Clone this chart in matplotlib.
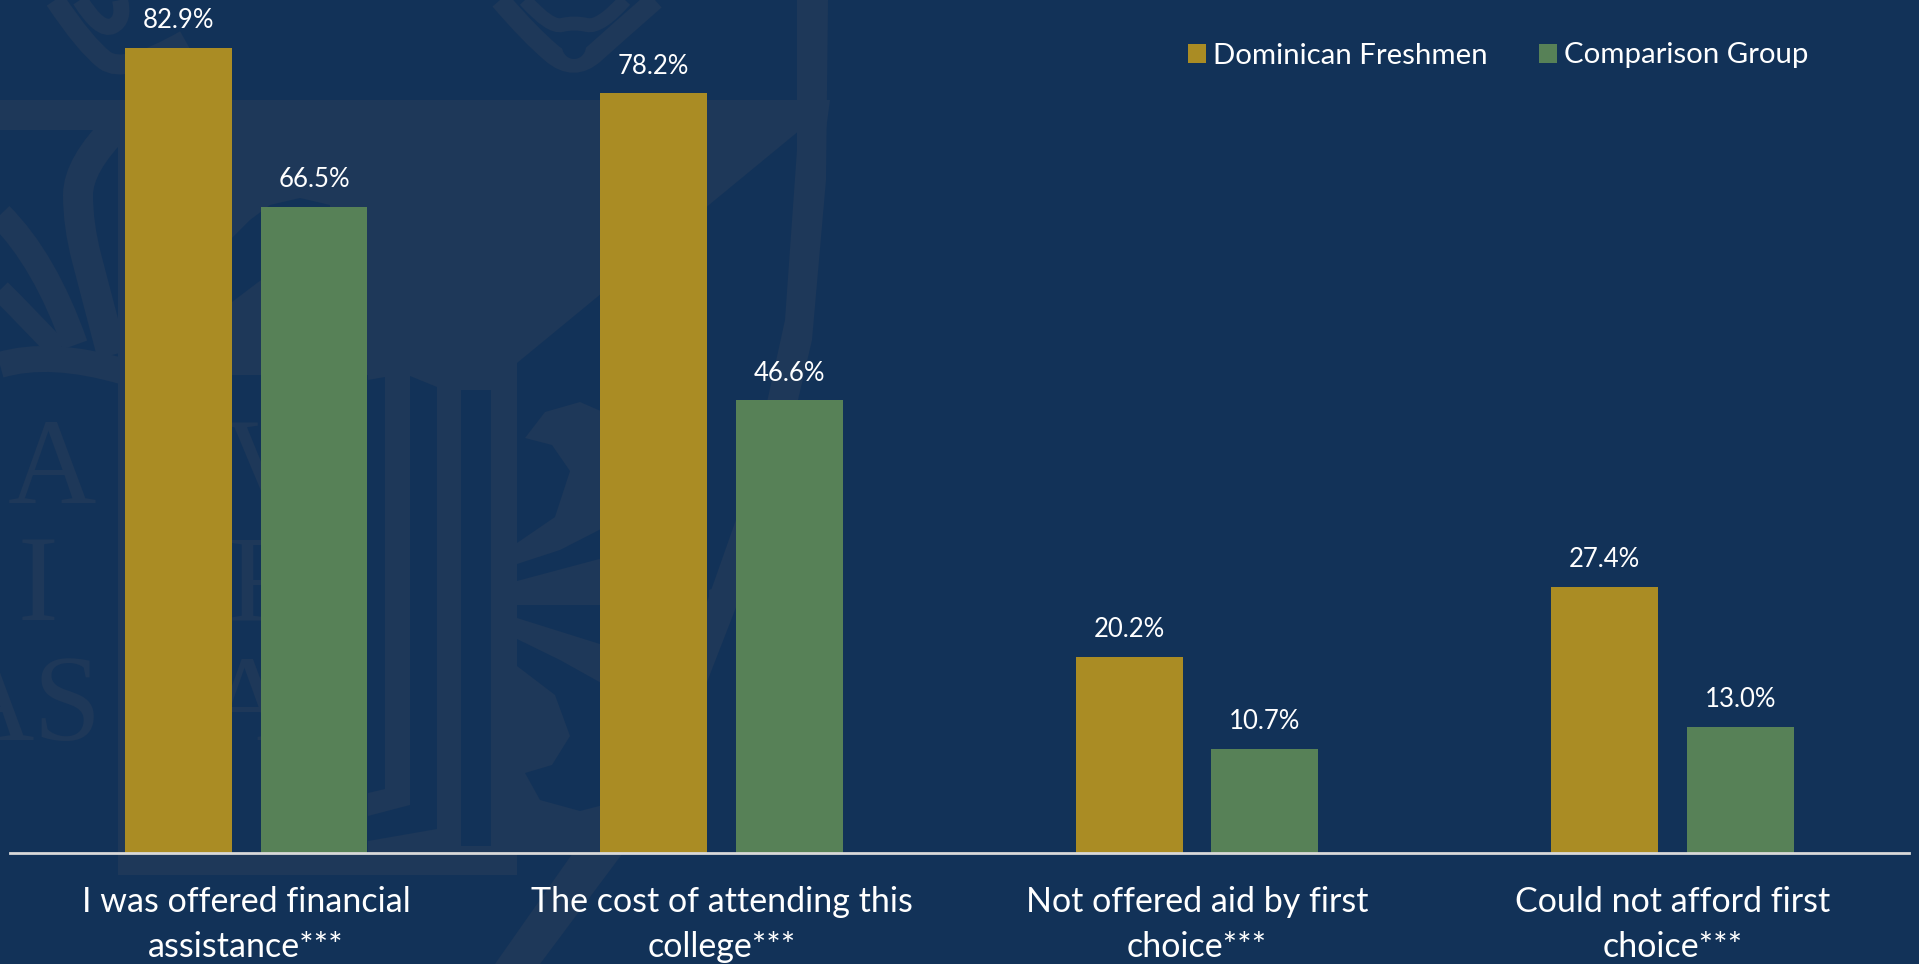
#!/usr/bin/env python3
"""Grouped bars: financial aid items, Dominican freshmen vs comparison group."""

import matplotlib
matplotlib.use("Agg")
import matplotlib.pyplot as plt
from matplotlib.patches import Ellipse, PathPatch, Polygon, Rectangle
from matplotlib.path import Path
import numpy as np

plt.rcParams.update({"font.family": ["Lato", "DejaVu Sans"]})

categories = ["I was offered financial\nassistance***",
              "The cost of attending this\ncollege***",
              "Not offered aid by first\nchoice***",
              "Could not afford first\nchoice***"]
dominican = [82.9, 78.2, 20.2, 27.4]
comparison = [66.5, 46.6, 10.7, 13.0]
series_names = ["Dominican Freshmen", "Comparison Group"]

BG = "#123258"
MARK = "#1E3859"
GOLD = "#AA8C24"
GREEN = "#578157"

W, H = 1919, 964
fig = plt.figure(figsize=(W / 100, H / 100), dpi=100, facecolor=BG)

# Faint crest behind the chart, in pixel coordinates (y down).
bg = fig.add_axes([0, 0, 1, 1], zorder=0)
bg.set_xlim(0, W)
bg.set_ylim(H, 0)
bg.axis("off")


def ribbon(pts, width):
    # smooth open curve through the midpoints of pts
    verts = [pts[0]]
    codes = [Path.MOVETO]
    for i in range(1, len(pts) - 1):
        mid = ((pts[i][0] + pts[i + 1][0]) / 2, (pts[i][1] + pts[i + 1][1]) / 2)
        verts += [pts[i], mid]
        codes += [Path.CURVE3, Path.CURVE3]
    verts[-1] = pts[-1]
    bg.add_patch(PathPatch(Path(verts, codes), fc="none", ec=MARK,
                           lw=width * 0.72, capstyle="butt"))


def light(pts):
    bg.add_patch(Polygon(pts, fc=MARK, ec="none"))


def dark(pts):
    bg.add_patch(Polygon(pts, fc=BG, ec="none"))


# main panel and top band
light([(0, 100), (830, 100), (826, 130), (0, 130)])
light([(118, 130), (800, 130), (517, 363), (517, 875), (118, 875)])
bg.add_patch(Rectangle((125, 375), 243, 478, fc=BG, ec="none"))
dark([(232, 238), (250, 220), (270, 205), (300, 198), (330, 205), (330, 260),
      (290, 265), (261, 280), (232, 302)])

# columns
dark([(368, 380), (385, 377), (385, 789), (368, 793)])
dark([(410, 376), (437, 387), (437, 829), (368, 841), (368, 816), (410, 805)])
dark([(461, 390), (491, 390), (491, 846), (461, 846)])

# outer shield edge
light([(797, 0), (828, 0), (826, 180), (812, 340), (770, 520), (700, 700),
       (640, 830), (540, 964), (495, 964), (610, 800), (690, 650), (750, 480),
       (785, 320), (797, 150)])

# scrollwork right of the columns
light([(525, 438), (545, 412), (580, 402), (603, 412), (603, 528), (560, 550),
       (517, 564), (517, 543), (555, 517), (570, 471), (552, 445)])
light([(517, 581), (603, 558), (603, 605), (517, 605)])
light([(517, 618), (603, 645), (603, 684), (560, 660), (517, 639)])
light([(517, 666), (555, 695), (570, 736), (552, 765), (525, 773), (540, 800),
       (580, 811), (603, 805), (603, 853), (517, 853)])
light([(709, 590), (720, 585), (735, 600), (709, 640)])

# scrollwork left of the first bar
ribbon([(118, 125), (78, 165), (78, 225), (95, 290), (112, 355)], 30)
ribbon([(0, 215), (45, 260), (75, 345)], 26)
ribbon([(0, 365), (50, 350), (125, 372)], 26)
ribbon([(0, 290), (30, 320), (58, 350)], 22)

# crest tops
ribbon([(55, 0), (85, 45), (124, 75), (185, 40)], 20)
ribbon([(80, 0), (100, 32), (125, 20), (120, 0)], 16)
ribbon([(500, 0), (530, 35), (574, 72), (615, 35), (655, 0)], 20)
ribbon([(525, 0), (550, 28), (574, 22), (600, 28), (625, 0)], 14)
bg.add_patch(Ellipse((574, 46), 24, 26, fc=BG, ec="none"))
bg.add_patch(Ellipse((132, 43), 24, 26, fc=BG, ec="none"))

# motto letters of the seal
for s, x, y in [("A", 52, 473), ("V", 268, 473), ("I", 38, 590), ("R", 268, 590),
                ("AS", 102, 710), ("A", 292, 710)]:
    bg.text(x, y, s, color=MARK, fontsize=88, family="Liberation Serif",
            ha="right" if s in ("AS", "A") and y == 710 else "center",
            va="center", clip_on=True)

ax = fig.add_axes([10 / W, 1 - 853 / H, 1899 / W, 853 / H], zorder=1)
ax.patch.set_alpha(0)

x = np.arange(len(categories))
offset = 0.1427
width = 0.225
gold_bars = ax.bar(x - offset, dominican, width, color=GOLD, label=series_names[0])
green_bars = ax.bar(x + offset, comparison, width, color=GREEN, label=series_names[1])

for bars in (gold_bars, green_bars):
    ax.bar_label(bars, fmt="%.1f%%", padding=10.5, color="white", fontsize=18.5,
                 clip_on=False)

ax.set_xlim(-0.4967, 3.4975)
ax.set_ylim(0, 87.8)
ax.set_yticks([])
ax.set_xticks(x)
ax.set_xticklabels(categories, color="white", fontsize=24.5, linespacing=1.48)
ax.tick_params(axis="x", length=0, pad=24)
for side in ("top", "left", "right"):
    ax.spines[side].set_visible(False)
ax.spines["bottom"].set_color("#D9D9D9")
ax.spines["bottom"].set_linewidth(2)

ax.legend(loc="upper left", bbox_to_anchor=(1178 / 1899, 1 - 42.5 / 853), ncol=2,
          frameon=False, fontsize=21.2, labelcolor="white", handlelength=0.61,
          handleheight=0.61, handletextpad=0.24, columnspacing=1.75, borderpad=0,
          borderaxespad=0)

fig.savefig("out.png", dpi=100, facecolor=BG)
